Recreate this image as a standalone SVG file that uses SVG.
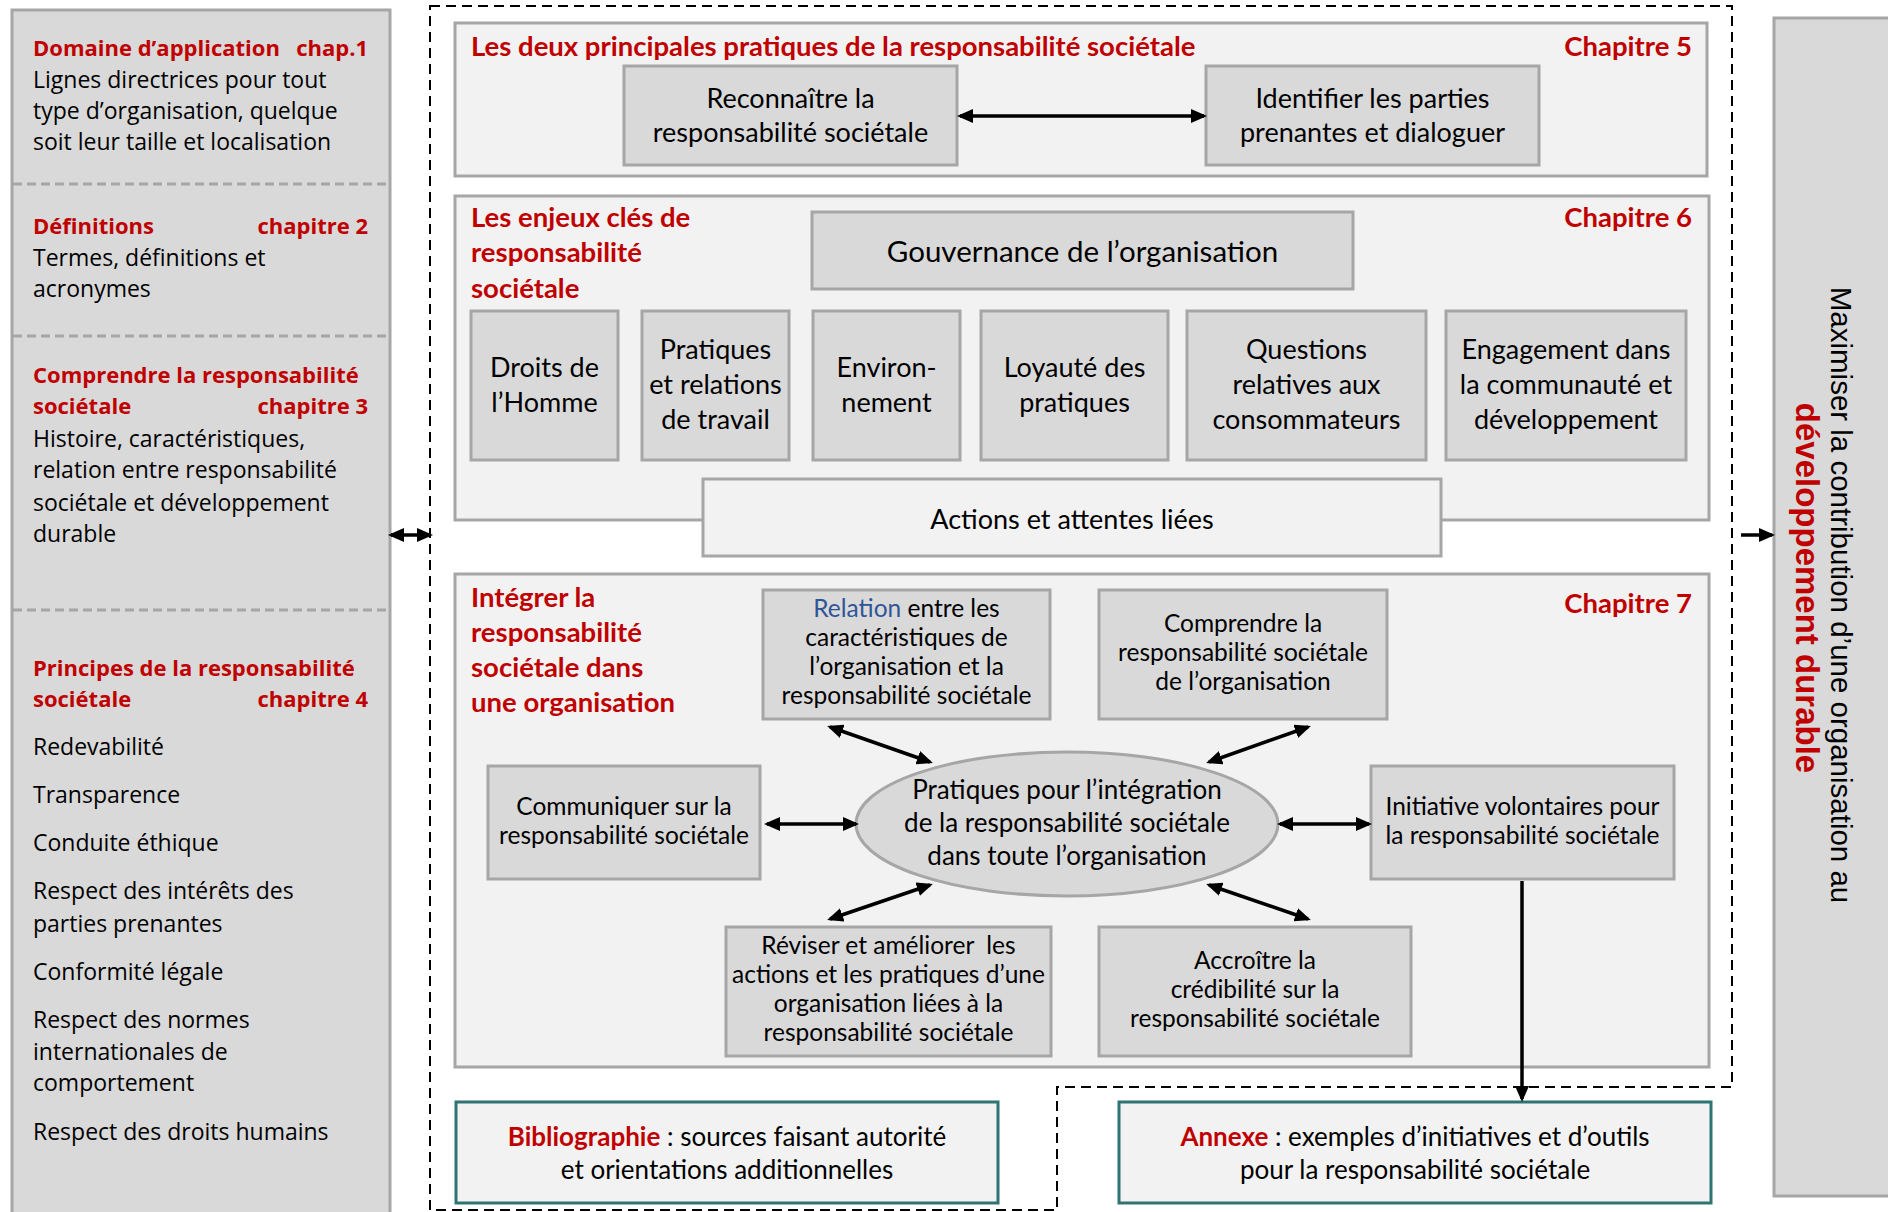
<svg xmlns="http://www.w3.org/2000/svg" width="1888" height="1212" viewBox="0 0 1888 1212">
<style>
.panel{fill:#d9d9d9;stroke:#a6a6a6;stroke-width:3}
.sep{stroke:#a6a6a6;stroke-width:3;stroke-dasharray:9 5;fill:none}
.lt{font-family:"Open Sans","Noto Sans",sans-serif;font-size:23px;fill:#000}
.lr{font-family:"Open Sans","Noto Sans",sans-serif;font-size:22px;font-weight:bold;fill:#c00000}
.chap{fill:#f2f2f2;stroke:#a6a6a6;stroke-width:3}
.box{fill:#d9d9d9;stroke:#a6a6a6;stroke-width:3}
.light{fill:#f2f2f2;stroke:#a6a6a6;stroke-width:3}
.teal{fill:#f2f2f2;stroke:#2e7473;stroke-width:3}
.t{font-family:Lato,"Liberation Sans",sans-serif;font-size:27px;fill:#000;text-anchor:middle}
.ts{font-family:Lato,"Liberation Sans",sans-serif;font-size:24.5px;fill:#000;text-anchor:middle}
.tt{font-family:Lato,"Liberation Sans",sans-serif;font-size:27.5px;font-weight:bold;fill:#c00000}
.red{fill:#c00000;font-weight:bold}
.blue{fill:#2f5597}
.dash{fill:none;stroke:#000;stroke-width:2;stroke-dasharray:10 6}
.arr{stroke:#000;stroke-width:3.5;fill:none;marker-start:url(#ah);marker-end:url(#ah)}
.arr1{stroke:#000;stroke-width:3.5;fill:none;marker-end:url(#ah)}
</style>
<defs>
<marker id="ah" markerUnits="userSpaceOnUse" markerWidth="16" markerHeight="14" refX="13" refY="7" orient="auto-start-reverse">
<path d="M0,0 L16,7 L0,14 Z" fill="#000"/>
</marker>
</defs>
<rect width="1888" height="1212" fill="#fff"/>

<g id="left-panel">
<rect class="panel" x="12" y="10" width="378" height="1215"/>
<line class="sep" x1="13" y1="184" x2="389" y2="184"/>
<line class="sep" x1="13" y1="336" x2="389" y2="336"/>
<line class="sep" x1="13" y1="610" x2="389" y2="610"/>
<text class="lr" x="33" y="56">Domaine d’application</text>
<text class="lr" x="368" y="56" text-anchor="end">chap.1</text>
<text class="lt" x="33" y="88">Lignes directrices pour tout</text>
<text class="lt" x="33" y="119">type d’organisation, quelque</text>
<text class="lt" x="33" y="150">soit leur taille et localisation</text>
<text class="lr" x="33" y="234">Définitions</text>
<text class="lr" x="368" y="234" text-anchor="end">chapitre 2</text>
<text class="lt" x="33" y="266">Termes, définitions et</text>
<text class="lt" x="33" y="297">acronymes</text>
<text class="lr" x="33" y="383">Comprendre la responsabilité</text>
<text class="lr" x="33" y="414">sociétale</text>
<text class="lr" x="368" y="414" text-anchor="end">chapitre 3</text>
<text class="lt" x="33" y="447">Histoire, caractéristiques,</text>
<text class="lt" x="33" y="478">relation entre responsabilité</text>
<text class="lt" x="33" y="511">sociétale et développement</text>
<text class="lt" x="33" y="542">durable</text>
<text class="lr" x="33" y="676">Principes de la responsabilité</text>
<text class="lr" x="33" y="707">sociétale</text>
<text class="lr" x="368" y="707" text-anchor="end">chapitre 4</text>
<text class="lt" x="33" y="755">Redevabilité</text>
<text class="lt" x="33" y="803">Transparence</text>
<text class="lt" x="33" y="851">Conduite éthique</text>
<text class="lt" x="33" y="899">Respect des intérêts des</text>
<text class="lt" x="33" y="932">parties prenantes</text>
<text class="lt" x="33" y="980">Conformité légale</text>
<text class="lt" x="33" y="1028">Respect des normes</text>
<text class="lt" x="33" y="1060">internationales de</text>
<text class="lt" x="33" y="1091">comportement</text>
<text class="lt" x="33" y="1140">Respect des droits humains</text>
</g>

<g id="outer-frame">
<path class="dash" d="M430,6 H1732 V1087 H1057 V1210 H430 Z"/>
</g>

<g id="chapitre5">
<rect class="chap" x="455" y="23" width="1252" height="153"/>
<text class="tt" x="471" y="56">Les deux principales pratiques de la responsabilité sociétale</text>
<text class="tt" x="1692" y="56" text-anchor="end">Chapitre 5</text>
</g>
<g id="reconnaitre">
<rect class="box" x="624" y="66" width="333" height="99"/>
<text class="t" x="790.5" y="108">Reconnaître la</text>
<text class="t" x="790.5" y="142">responsabilité sociétale</text>
</g>
<g id="identifier">
<rect class="box" x="1206" y="66" width="333" height="99"/>
<text class="t" x="1372.5" y="108">Identifier les parties</text>
<text class="t" x="1372.5" y="142">prenantes et dialoguer</text>
</g>

<g id="chapitre6">
<rect class="chap" x="455" y="196" width="1254" height="324"/>
<text class="tt" x="471" y="227">Les enjeux clés de</text>
<text class="tt" x="471" y="262">responsabilité</text>
<text class="tt" x="471" y="298">sociétale</text>
<text class="tt" x="1692" y="227" text-anchor="end">Chapitre 6</text>
</g>
<g id="gouvernance">
<rect class="box" x="812" y="212" width="541" height="77"/>
<text class="t" x="1082.5" y="262" style="font-size:29.5px">Gouvernance de l’organisation</text>
</g>
<g id="droits">
<rect class="box" x="471" y="311" width="147" height="149"/>
<text class="t" x="544.5" y="377">Droits de</text>
<text class="t" x="544.5" y="412">l’Homme</text>
</g>
<g id="travail">
<rect class="box" x="642" y="311" width="147" height="149"/>
<text class="t" x="715.5" y="359">Pratiques</text>
<text class="t" x="715.5" y="394">et relations</text>
<text class="t" x="715.5" y="429">de travail</text>
</g>
<g id="environnement">
<rect class="box" x="813" y="311" width="147" height="149"/>
<text class="t" x="886.5" y="377">Environ-</text>
<text class="t" x="886.5" y="412">nement</text>
</g>
<g id="loyaute">
<rect class="box" x="981" y="311" width="187" height="149"/>
<text class="t" x="1074.5" y="377">Loyauté des</text>
<text class="t" x="1074.5" y="412">pratiques</text>
</g>
<g id="consommateurs">
<rect class="box" x="1187" y="311" width="239" height="149"/>
<text class="t" x="1306.5" y="359">Questions</text>
<text class="t" x="1306.5" y="394">relatives aux</text>
<text class="t" x="1306.5" y="429">consommateurs</text>
</g>
<g id="communaute">
<rect class="box" x="1446" y="311" width="240" height="149"/>
<text class="t" x="1566" y="359">Engagement dans</text>
<text class="t" x="1566" y="394">la communauté et</text>
<text class="t" x="1566" y="429">développement</text>
</g>
<g id="actions">
<rect class="light" x="703" y="479" width="738" height="77"/>
<text class="t" x="1072" y="529">Actions et attentes liées</text>
</g>

<g id="chapitre7">
<rect class="chap" x="455" y="574" width="1254" height="493"/>
<text class="tt" x="471" y="607">Intégrer la</text>
<text class="tt" x="471" y="642">responsabilité</text>
<text class="tt" x="471" y="677">sociétale dans</text>
<text class="tt" x="471" y="712">une organisation</text>
<text class="tt" x="1692" y="613" text-anchor="end">Chapitre 7</text>
</g>
<g id="relation">
<rect class="box" x="763" y="590" width="287" height="129"/>
<text class="ts" x="906.5" y="617"><tspan class="blue">Relation</tspan> entre les</text>
<text class="ts" x="906.5" y="646">caractéristiques de</text>
<text class="ts" x="906.5" y="675">l’organisation et la</text>
<text class="ts" x="906.5" y="704">responsabilité sociétale</text>
</g>
<g id="comprendre">
<rect class="box" x="1099" y="590" width="288" height="129"/>
<text class="ts" x="1243" y="632">Comprendre la</text>
<text class="ts" x="1243" y="661">responsabilité sociétale</text>
<text class="ts" x="1243" y="690">de l’organisation</text>
</g>
<g id="communiquer">
<rect class="box" x="488" y="766" width="272" height="113"/>
<text class="ts" x="624" y="815">Communiquer sur la</text>
<text class="ts" x="624" y="844">responsabilité sociétale</text>
</g>
<g id="pratiques-integration">
<ellipse cx="1067" cy="824" rx="211" ry="72" fill="#d9d9d9" stroke="#a6a6a6" stroke-width="3"/>
<text class="t" x="1067" y="799" style="font-size:26px">Pratiques pour l’intégration</text>
<text class="t" x="1067" y="832" style="font-size:26px">de la responsabilité sociétale</text>
<text class="t" x="1067" y="865" style="font-size:26px">dans toute l’organisation</text>
</g>
<g id="initiative">
<rect class="box" x="1371" y="766" width="303" height="113"/>
<text class="ts" x="1522.5" y="815">Initiative volontaires pour</text>
<text class="ts" x="1522.5" y="844">la responsabilité sociétale</text>
</g>
<g id="reviser">
<rect class="box" x="726" y="927" width="325" height="129"/>
<text class="ts" x="888.5" y="954" xml:space="preserve">Réviser et améliorer  les</text>
<text class="ts" x="888.5" y="983">actions et les pratiques d’une</text>
<text class="ts" x="888.5" y="1012">organisation liées à la</text>
<text class="ts" x="888.5" y="1041">responsabilité sociétale</text>
</g>
<g id="accroitre">
<rect class="box" x="1099" y="927" width="312" height="129"/>
<text class="ts" x="1255" y="969">Accroître la</text>
<text class="ts" x="1255" y="998">crédibilité sur la</text>
<text class="ts" x="1255" y="1027">responsabilité sociétale</text>
</g>

<g id="bibliographie">
<rect class="teal" x="456" y="1102" width="542" height="101"/>
<text class="t" x="727" y="1146" style="font-size:26px"><tspan class="red">Bibliographie</tspan> : sources faisant autorité</text>
<text class="t" x="727" y="1179" style="font-size:26px">et orientations additionnelles</text>
</g>
<g id="annexe">
<rect class="teal" x="1119" y="1102" width="592" height="101"/>
<text class="t" x="1415" y="1146" style="font-size:26px"><tspan class="red">Annexe</tspan> : exemples d’initiatives et d’outils</text>
<text class="t" x="1415" y="1179" style="font-size:26px">pour la responsabilité sociétale</text>
</g>

<g id="developpement-durable">
<rect class="panel" x="1774" y="18" width="120" height="1178"/>
<text transform="translate(1831,595) rotate(90)" text-anchor="middle" style="font-family:'Liberation Sans',Arial,sans-serif;font-size:29.5px;fill:#000">Maximiser la contribution d’une organisation au</text>
<text transform="translate(1796,588) rotate(90)" text-anchor="middle" style="font-family:'Liberation Sans',Arial,sans-serif;font-size:33px;font-weight:bold;fill:#c00000">développement durable</text>
</g>

<g id="connectors">
<line class="arr" x1="960" y1="116" x2="1204" y2="116"/>
<line class="arr" x1="391" y1="535" x2="430" y2="535"/>
<line class="arr1" x1="1741" y1="535" x2="1772" y2="535"/>
<line class="arr" x1="830" y1="727" x2="930" y2="762"/>
<line class="arr" x1="1308" y1="727" x2="1209" y2="762"/>
<line class="arr" x1="767" y1="824" x2="856" y2="824"/>
<line class="arr" x1="1280" y1="824" x2="1369" y2="824"/>
<line class="arr" x1="830" y1="919" x2="930" y2="885"/>
<line class="arr" x1="1308" y1="919" x2="1209" y2="885"/>
<line class="arr1" x1="1522" y1="881" x2="1522" y2="1099"/>
</g>
</svg>
